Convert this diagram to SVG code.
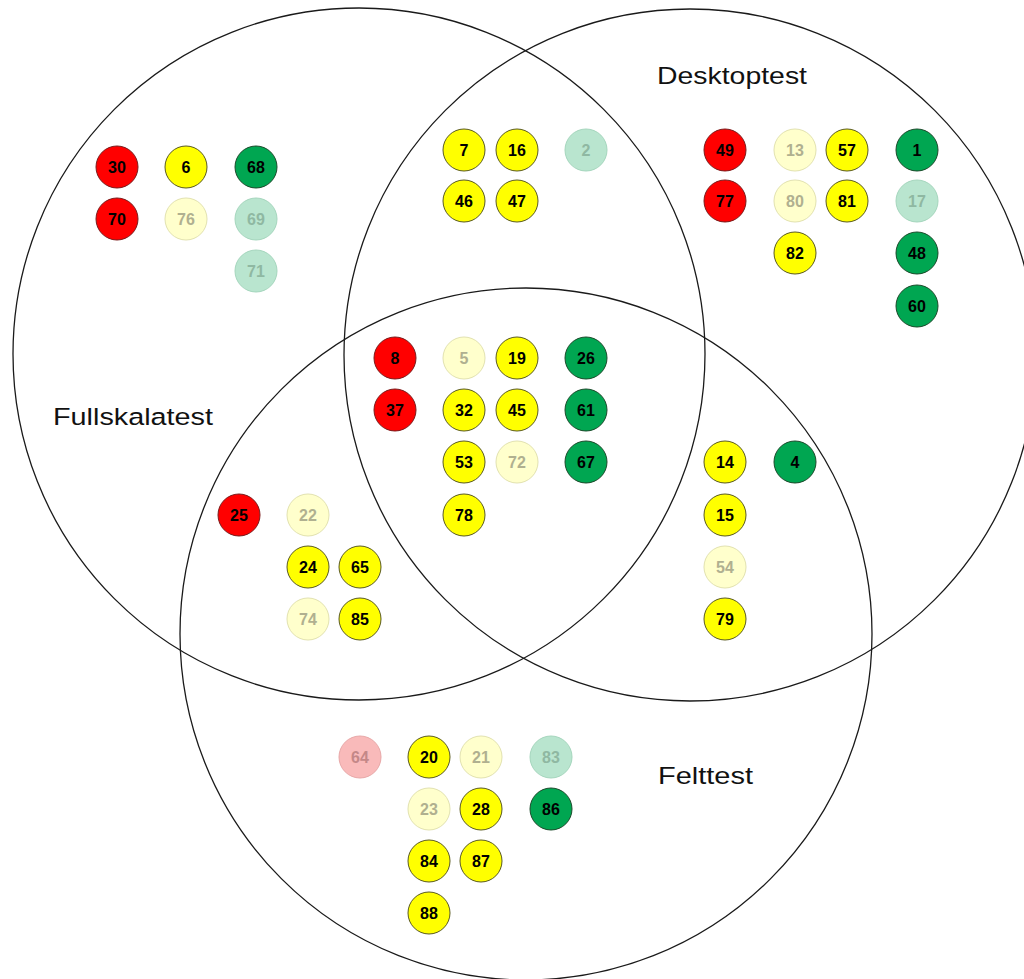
<svg xmlns="http://www.w3.org/2000/svg" width="1024" height="979" viewBox="0 0 1024 979">
<style>
.set{fill:none;stroke:#1a1a1a;stroke-width:1.3}
.lbl{font-family:"Liberation Sans",Arial,sans-serif;font-size:24.5px;fill:#111}
.n circle{stroke-width:1}
.n text{font-family:"Liberation Sans",Arial,sans-serif;font-size:16px;font-weight:bold;text-anchor:middle}
.r circle{fill:#ff0000;stroke:#7a1a1a}
.y circle{fill:#ffff00;stroke:#5a5a20}
.g circle{fill:#00a651;stroke:#1a4a2a}
.r text,.y text,.g text{fill:#000}
.pr circle{fill:#f9baba;stroke:#e8a8a8}
.pr text{fill:#c48888}
.py circle{fill:#ffffcc;stroke:#e2e2b0}
.py text{fill:#b0b090}
.pg circle{fill:#b9e5cf;stroke:#a5d6bd}
.pg text{fill:#8fb8a2}
</style>
<rect width="1024" height="979" fill="#ffffff"/>
<g id="sets">
<circle id="set-fullskalatest" class="set" cx="359" cy="354" r="346"/>
<circle id="set-desktoptest" class="set" cx="690" cy="355" r="346"/>
<circle id="set-felttest" class="set" cx="526" cy="634" r="346"/>
<text id="label-desktoptest" class="lbl" x="657" y="84" textLength="150" lengthAdjust="spacingAndGlyphs">Desktoptest</text>
<text id="label-fullskalatest" class="lbl" x="53" y="425" textLength="160" lengthAdjust="spacingAndGlyphs">Fullskalatest</text>
<text id="label-felttest" class="lbl" x="658" y="784" textLength="95" lengthAdjust="spacingAndGlyphs">Felttest</text>
</g>
<g id="connectors"></g>
<g id="n30" class="n r"><circle cx="117" cy="167" r="21"/><text x="117" y="173">30</text></g>
<g id="n6" class="n y"><circle cx="186" cy="167" r="21"/><text x="186" y="173">6</text></g>
<g id="n68" class="n g"><circle cx="256" cy="167" r="21"/><text x="256" y="173">68</text></g>
<g id="n70" class="n r"><circle cx="117" cy="219" r="21"/><text x="117" y="225">70</text></g>
<g id="n76" class="n py"><circle cx="186" cy="219" r="21"/><text x="186" y="225">76</text></g>
<g id="n69" class="n pg"><circle cx="256" cy="219" r="21"/><text x="256" y="225">69</text></g>
<g id="n71" class="n pg"><circle cx="256" cy="271" r="21"/><text x="256" y="277">71</text></g>
<g id="n7" class="n y"><circle cx="464" cy="150" r="21"/><text x="464" y="156">7</text></g>
<g id="n16" class="n y"><circle cx="517" cy="150" r="21"/><text x="517" y="156">16</text></g>
<g id="n2" class="n pg"><circle cx="586" cy="150" r="21"/><text x="586" y="156">2</text></g>
<g id="n46" class="n y"><circle cx="464" cy="201" r="21"/><text x="464" y="207">46</text></g>
<g id="n47" class="n y"><circle cx="517" cy="201" r="21"/><text x="517" y="207">47</text></g>
<g id="n49" class="n r"><circle cx="725" cy="150" r="21"/><text x="725" y="156">49</text></g>
<g id="n13" class="n py"><circle cx="795" cy="150" r="21"/><text x="795" y="156">13</text></g>
<g id="n57" class="n y"><circle cx="847" cy="150" r="21"/><text x="847" y="156">57</text></g>
<g id="n1" class="n g"><circle cx="917" cy="150" r="21"/><text x="917" y="156">1</text></g>
<g id="n77" class="n r"><circle cx="725" cy="201" r="21"/><text x="725" y="207">77</text></g>
<g id="n80" class="n py"><circle cx="795" cy="201" r="21"/><text x="795" y="207">80</text></g>
<g id="n81" class="n y"><circle cx="847" cy="201" r="21"/><text x="847" y="207">81</text></g>
<g id="n17" class="n pg"><circle cx="917" cy="201" r="21"/><text x="917" y="207">17</text></g>
<g id="n82" class="n y"><circle cx="795" cy="253" r="21"/><text x="795" y="259">82</text></g>
<g id="n48" class="n g"><circle cx="917" cy="253" r="21"/><text x="917" y="259">48</text></g>
<g id="n60" class="n g"><circle cx="917" cy="306" r="21"/><text x="917" y="312">60</text></g>
<g id="n8" class="n r"><circle cx="395" cy="358" r="21"/><text x="395" y="364">8</text></g>
<g id="n5" class="n py"><circle cx="464" cy="358" r="21"/><text x="464" y="364">5</text></g>
<g id="n19" class="n y"><circle cx="517" cy="358" r="21"/><text x="517" y="364">19</text></g>
<g id="n26" class="n g"><circle cx="586" cy="358" r="21"/><text x="586" y="364">26</text></g>
<g id="n37" class="n r"><circle cx="395" cy="410" r="21"/><text x="395" y="416">37</text></g>
<g id="n32" class="n y"><circle cx="464" cy="410" r="21"/><text x="464" y="416">32</text></g>
<g id="n45" class="n y"><circle cx="517" cy="410" r="21"/><text x="517" y="416">45</text></g>
<g id="n61" class="n g"><circle cx="586" cy="410" r="21"/><text x="586" y="416">61</text></g>
<g id="n53" class="n y"><circle cx="464" cy="462" r="21"/><text x="464" y="468">53</text></g>
<g id="n72" class="n py"><circle cx="517" cy="462" r="21"/><text x="517" y="468">72</text></g>
<g id="n67" class="n g"><circle cx="586" cy="462" r="21"/><text x="586" y="468">67</text></g>
<g id="n78" class="n y"><circle cx="464" cy="515" r="21"/><text x="464" y="521">78</text></g>
<g id="n14" class="n y"><circle cx="725" cy="462" r="21"/><text x="725" y="468">14</text></g>
<g id="n4" class="n g"><circle cx="795" cy="462" r="21"/><text x="795" y="468">4</text></g>
<g id="n15" class="n y"><circle cx="725" cy="515" r="21"/><text x="725" y="521">15</text></g>
<g id="n54" class="n py"><circle cx="725" cy="567" r="21"/><text x="725" y="573">54</text></g>
<g id="n79" class="n y"><circle cx="725" cy="619" r="21"/><text x="725" y="625">79</text></g>
<g id="n25" class="n r"><circle cx="239" cy="515" r="21"/><text x="239" y="521">25</text></g>
<g id="n22" class="n py"><circle cx="308" cy="515" r="21"/><text x="308" y="521">22</text></g>
<g id="n24" class="n y"><circle cx="308" cy="567" r="21"/><text x="308" y="573">24</text></g>
<g id="n65" class="n y"><circle cx="360" cy="567" r="21"/><text x="360" y="573">65</text></g>
<g id="n74" class="n py"><circle cx="308" cy="619" r="21"/><text x="308" y="625">74</text></g>
<g id="n85" class="n y"><circle cx="360" cy="619" r="21"/><text x="360" y="625">85</text></g>
<g id="n64" class="n pr"><circle cx="360" cy="757" r="21"/><text x="360" y="763">64</text></g>
<g id="n20" class="n y"><circle cx="429" cy="757" r="21"/><text x="429" y="763">20</text></g>
<g id="n21" class="n py"><circle cx="481" cy="757" r="21"/><text x="481" y="763">21</text></g>
<g id="n83" class="n pg"><circle cx="551" cy="757" r="21"/><text x="551" y="763">83</text></g>
<g id="n23" class="n py"><circle cx="429" cy="809" r="21"/><text x="429" y="815">23</text></g>
<g id="n28" class="n y"><circle cx="481" cy="809" r="21"/><text x="481" y="815">28</text></g>
<g id="n86" class="n g"><circle cx="551" cy="809" r="21"/><text x="551" y="815">86</text></g>
<g id="n84" class="n y"><circle cx="429" cy="861" r="21"/><text x="429" y="867">84</text></g>
<g id="n87" class="n y"><circle cx="481" cy="861" r="21"/><text x="481" y="867">87</text></g>
<g id="n88" class="n y"><circle cx="429" cy="913" r="21"/><text x="429" y="919">88</text></g>
</svg>
